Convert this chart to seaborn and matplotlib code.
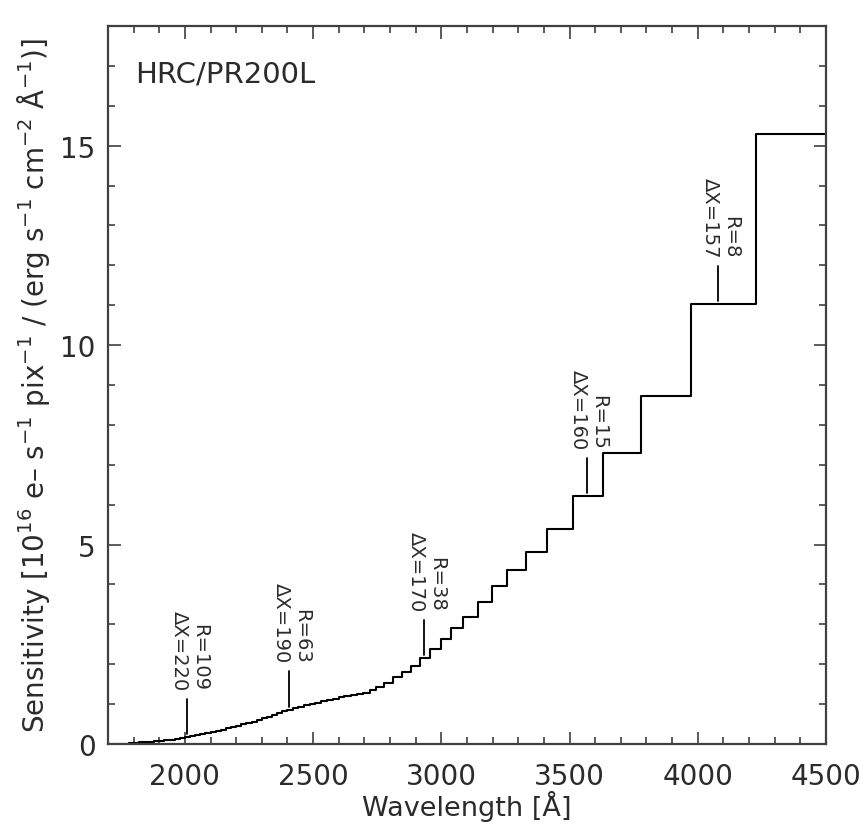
import numpy as np
import pandas as pd
import matplotlib
matplotlib.use("Agg")
import matplotlib.pyplot as plt
import seaborn as sns
from matplotlib.ticker import MultipleLocator

# bin start wavelengths [A] and sensitivity per bin
bin_start = [1700, 1720, 1740, 1760, 1780, 1800, 1820, 1840, 1860, 1880,
             1900, 1920, 1940, 1960, 1980, 2000, 2020, 2040, 2060, 2080,
             2100, 2120, 2140, 2160, 2180, 2200, 2220, 2240, 2260, 2280,
             2300, 2320, 2340, 2360, 2380, 2400, 2420, 2442, 2464, 2486,
             2508, 2530, 2553, 2576, 2599, 2622, 2646, 2670, 2695, 2720,
             2747, 2778, 2810, 2845, 2880, 2917, 2957, 2999, 3038, 3086,
             3142, 3196, 3257, 3330, 3411, 3512, 3630, 3780, 3974, 4227]
bin_end = 4500
sensitivity = [0.00, 0.00, 0.01, 0.01, 0.02, 0.03, 0.04, 0.05, 0.06, 0.07,
               0.08, 0.10, 0.11, 0.13, 0.15, 0.17, 0.19, 0.22, 0.24, 0.27,
               0.30, 0.33, 0.36, 0.39, 0.42, 0.45, 0.49, 0.52, 0.56, 0.60,
               0.64, 0.68, 0.73, 0.77, 0.82, 0.86, 0.90, 0.94, 0.97, 1.01,
               1.04, 1.08, 1.11, 1.14, 1.17, 1.20, 1.22, 1.25, 1.29, 1.35,
               1.44, 1.54, 1.67, 1.81, 1.96, 2.15, 2.39, 2.63, 2.92, 3.19,
               3.57, 3.96, 4.37, 4.81, 5.38, 6.21, 7.30, 8.72, 11.02, 15.30]

# resolution markers
mark_wave = [2010, 2407, 2934, 3567, 4080]
mark_R = [109, 63, 38, 15, 8]
mark_dx = [220, 190, 170, 160, 157]

text_col = "#2b2b2b"

sns.set_style("ticks")
plt.rcParams["font.family"] = ["DejaVu Sans"]

fig = plt.figure(figsize=(8.64, 8.29), dpi=100)
ax = fig.add_axes([0.125, 0.1013, 0.831, 0.8661])

df = pd.DataFrame({"wavelength": bin_start + [bin_end],
                   "sensitivity": sensitivity + [sensitivity[-1]]})
sns.lineplot(data=df, x="wavelength", y="sensitivity", drawstyle="steps-post",
             color="black", lw=1.5, ax=ax)

edges = np.array(bin_start + [bin_end])
for w, r, dx in zip(mark_wave, mark_R, mark_dx):
    i = np.searchsorted(edges, w, side="right") - 1
    base = sensitivity[i] + 0.08
    ax.plot([w, w], [base, base + 0.88], color="black", lw=1.3)
    ax.text(w + 8, base + 0.88 + 0.22, f"R={r}\n\u0394X={dx}", rotation=-90,
            ha="center", va="bottom", multialignment="right",
            fontsize=14, color=text_col, linespacing=1.1)

ax.text(1805, 16.8, "HRC/PR200L", fontsize=21, color=text_col, va="center")

ax.set_xlim(1700, 4500)
ax.set_ylim(0, 18)
ax.xaxis.set_major_locator(MultipleLocator(500))
ax.xaxis.set_minor_locator(MultipleLocator(100))
ax.yaxis.set_major_locator(MultipleLocator(5))
ax.yaxis.set_minor_locator(MultipleLocator(1))
ax.tick_params(which="both", direction="in", top=True, right=True,
               colors="#404040", labelcolor=text_col, labelsize=20, width=1.2)
ax.tick_params(which="major", length=9)
ax.tick_params(axis="x", which="major", pad=13)
ax.tick_params(axis="y", which="major", pad=9)
ax.tick_params(which="minor", length=5)
for sp in ax.spines.values():
    sp.set_color("#404040")
    sp.set_linewidth(1.6)

ax.set_xlabel("Wavelength [\u00c5]", fontsize=19.5, color=text_col, labelpad=0)
ax.set_ylabel("Sensitivity [10$^{16}$ e\u2013 s$^{-1}$ pix$^{-1}$ / "
              "(erg s$^{-1}$ cm$^{-2}$ \u00c5$^{-1}$)]",
              fontsize=20, color=text_col, labelpad=6)

fig.savefig("out.png", dpi=100)
